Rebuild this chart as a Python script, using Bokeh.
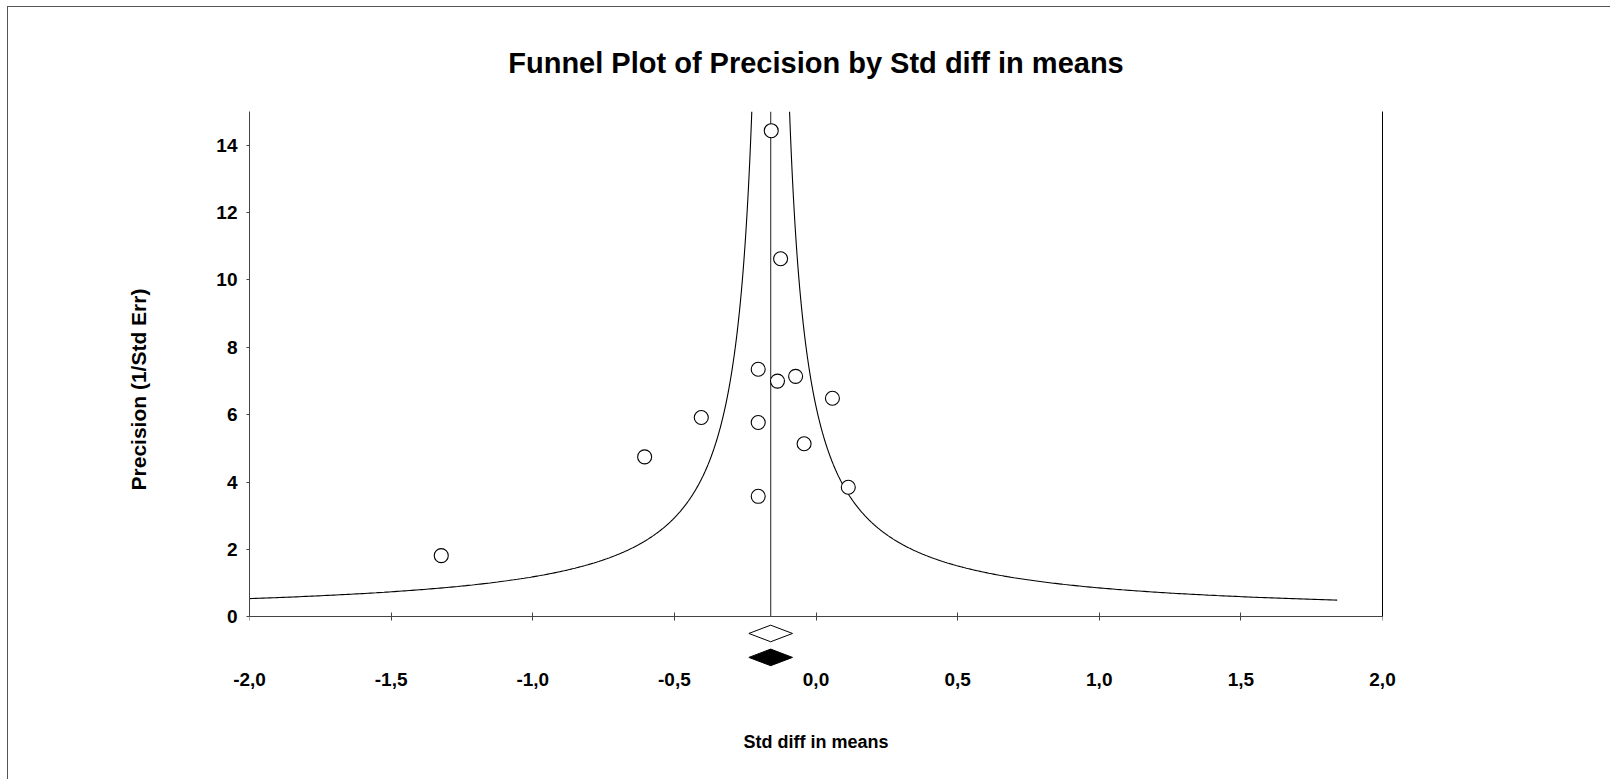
import numpy as np
from bokeh.plotting import figure
from bokeh.models import LinearAxis, FixedTicker, Range1d, CustomJSTickFormatter
from bokeh.embed import file_html
from bokeh.resources import INLINE

# ---------------- data ----------------
study_effect = [-0.158, -0.125, -0.204, -0.136, -0.072, 0.058, -0.405,
                -0.204, -0.042, -0.605, 0.114, -0.204, -1.323]
study_precision = [14.43, 10.63, 7.35, 7.00, 7.14, 6.49, 5.92,
                   5.77, 5.14, 4.75, 3.85, 3.58, 1.82]
summary_effect = -0.16
summary_ci_low = [-0.237, -0.237]     # open (fixed), filled (random)
summary_ci_high = [-0.083, -0.083]
summary_fill = ["white", "black"]
funnel_halfwidth_factor = 1.0
funnel_precision_min = 0.5
funnel_precision_max = 15.0

x_ticks = [-2.0, -1.5, -1.0, -0.5, 0.0, 0.5, 1.0, 1.5, 2.0]
x_tick_labels = ["-2,0", "-1,5", "-1,0", "-0,5", "0,0", "0,5", "1,0", "1,5", "2,0"]
y_ticks = [0, 2, 4, 6, 8, 10, 12, 14]
y_tick_labels = ["0", "2", "4", "6", "8", "10", "12", "14"]

title_text = "Funnel Plot of Precision by Std diff in means"
x_title = "Std diff in means"
y_title = "Precision (1/Std Err)"

# layout constants (positions of the summary diamonds below the axis)
diamond_y = [-0.49, -1.20]
diamond_half_h = 0.246

FONT = "Liberation Sans"
AXIS_COLOR = "#444444"

label_js = """
const i = tvals.findIndex(t => Math.abs(t - tick) < 1e-9);
return i >= 0 ? ttexts[i] : '';
"""

p = figure(width=1603, height=773,
           x_range=Range1d(-2, 2), y_range=Range1d(-1.5, 15),
           output_backend="svg", toolbar_location=None,
           min_border_left=241, min_border_right=229,
           min_border_top=104, min_border_bottom=113,
           title=title_text, x_axis_label=x_title, y_axis_label=y_title)
p.background_fill_color = "white"
p.border_fill_color = "white"
p.outline_line_color = None
p.grid.visible = False
p.styles = {"margin-left": "7px", "margin-top": "6px",
            "border-left": "1px solid #555555", "border-top": "1px solid #555555"}

p.title.text_font = FONT
p.title.text_font_size = "29px"
p.title.text_font_style = "bold"
p.title.text_color = "black"
p.title.align = "center"
p.title.standoff = 66

# left axis
ya = p.left[0]
ya.bounds = (0, 15)
ya.ticker = FixedTicker(ticks=y_ticks)
ya.formatter = CustomJSTickFormatter(args=dict(tvals=y_ticks, ttexts=y_tick_labels), code=label_js)
ya.axis_line_color = AXIS_COLOR
ya.major_tick_line_color = AXIS_COLOR
ya.major_tick_in = 0
ya.major_tick_out = 3
ya.minor_tick_line_color = None
ya.minor_tick_in = 0
ya.minor_tick_out = 0
ya.major_label_standoff = 9
ya.major_label_text_font = FONT
ya.major_label_text_font_size = "19px"
ya.major_label_text_font_style = "bold"
ya.major_label_text_color = "black"
ya.axis_label_text_font = FONT
ya.axis_label_text_font_size = "21px"
ya.axis_label_text_font_style = "bold"
ya.axis_label_text_color = "black"
ya.axis_label_standoff = 63

# axis line with ticks at precision 0 (drawn at y = 0 inside the frame)
xt = LinearAxis(fixed_location=0, ticker=FixedTicker(ticks=x_ticks),
                formatter=CustomJSTickFormatter(code="return ''"),
                axis_line_color=AXIS_COLOR, major_tick_line_color=AXIS_COLOR,
                major_tick_in=4, major_tick_out=4,
                minor_tick_line_color=None, minor_tick_in=0, minor_tick_out=0,
                major_label_text_font_size="0px", major_label_standoff=0)
p.add_layout(xt, "below")

# below axis: labels only
xb = p.below[0]
xb.ticker = FixedTicker(ticks=x_ticks)
xb.formatter = CustomJSTickFormatter(args=dict(tvals=x_ticks, ttexts=x_tick_labels), code=label_js)
xb.axis_line_color = None
xb.major_tick_line_color = None
xb.major_tick_in = 0
xb.major_tick_out = 0
xb.minor_tick_line_color = None
xb.minor_tick_in = 0
xb.minor_tick_out = 0
xb.major_label_standoff = 5
xb.major_label_text_font = FONT
xb.major_label_text_font_size = "19px"
xb.major_label_text_font_style = "bold"
xb.major_label_text_color = "black"
xb.axis_label_text_font = FONT
xb.axis_label_text_font_size = "18px"
xb.axis_label_text_font_style = "bold"
xb.axis_label_text_color = "black"
xb.axis_label_standoff = 43

# right border line
yr = LinearAxis(bounds=(0, 15), ticker=FixedTicker(ticks=[]),
                formatter=CustomJSTickFormatter(code="return ''"),
                axis_line_color="black", major_tick_line_color=None,
                major_tick_in=0, major_tick_out=0,
                minor_tick_line_color=None, minor_tick_in=0, minor_tick_out=0,
                major_label_text_font_size="0px", major_label_standoff=0)
p.add_layout(yr, "right")

# funnel
prec = np.geomspace(funnel_precision_min, funnel_precision_max, 500)
left_x = summary_effect - funnel_halfwidth_factor / prec
right_x = summary_effect + funnel_halfwidth_factor / prec
p.multi_line(xs=[list(left_x), list(right_x)], ys=[list(prec), list(prec)],
             line_color="black", line_width=1.1)

# summary vertical line
p.line(x=[summary_effect, summary_effect], y=[0, funnel_precision_max],
       line_color=AXIS_COLOR, line_width=1.2)

# studies
p.scatter(x=study_effect, y=study_precision, size=14, marker="circle",
          fill_color="white", line_color="black", line_width=1.1)

# summary diamonds
xs = [[lo, summary_effect, hi, summary_effect] for lo, hi in zip(summary_ci_low, summary_ci_high)]
ys = [[yc, yc + diamond_half_h, yc, yc - diamond_half_h] for yc in diamond_y]
p.patches(xs=xs, ys=ys, fill_color=summary_fill, line_color="black", line_width=1)

open("out.html", "w").write(file_html(p, INLINE))
